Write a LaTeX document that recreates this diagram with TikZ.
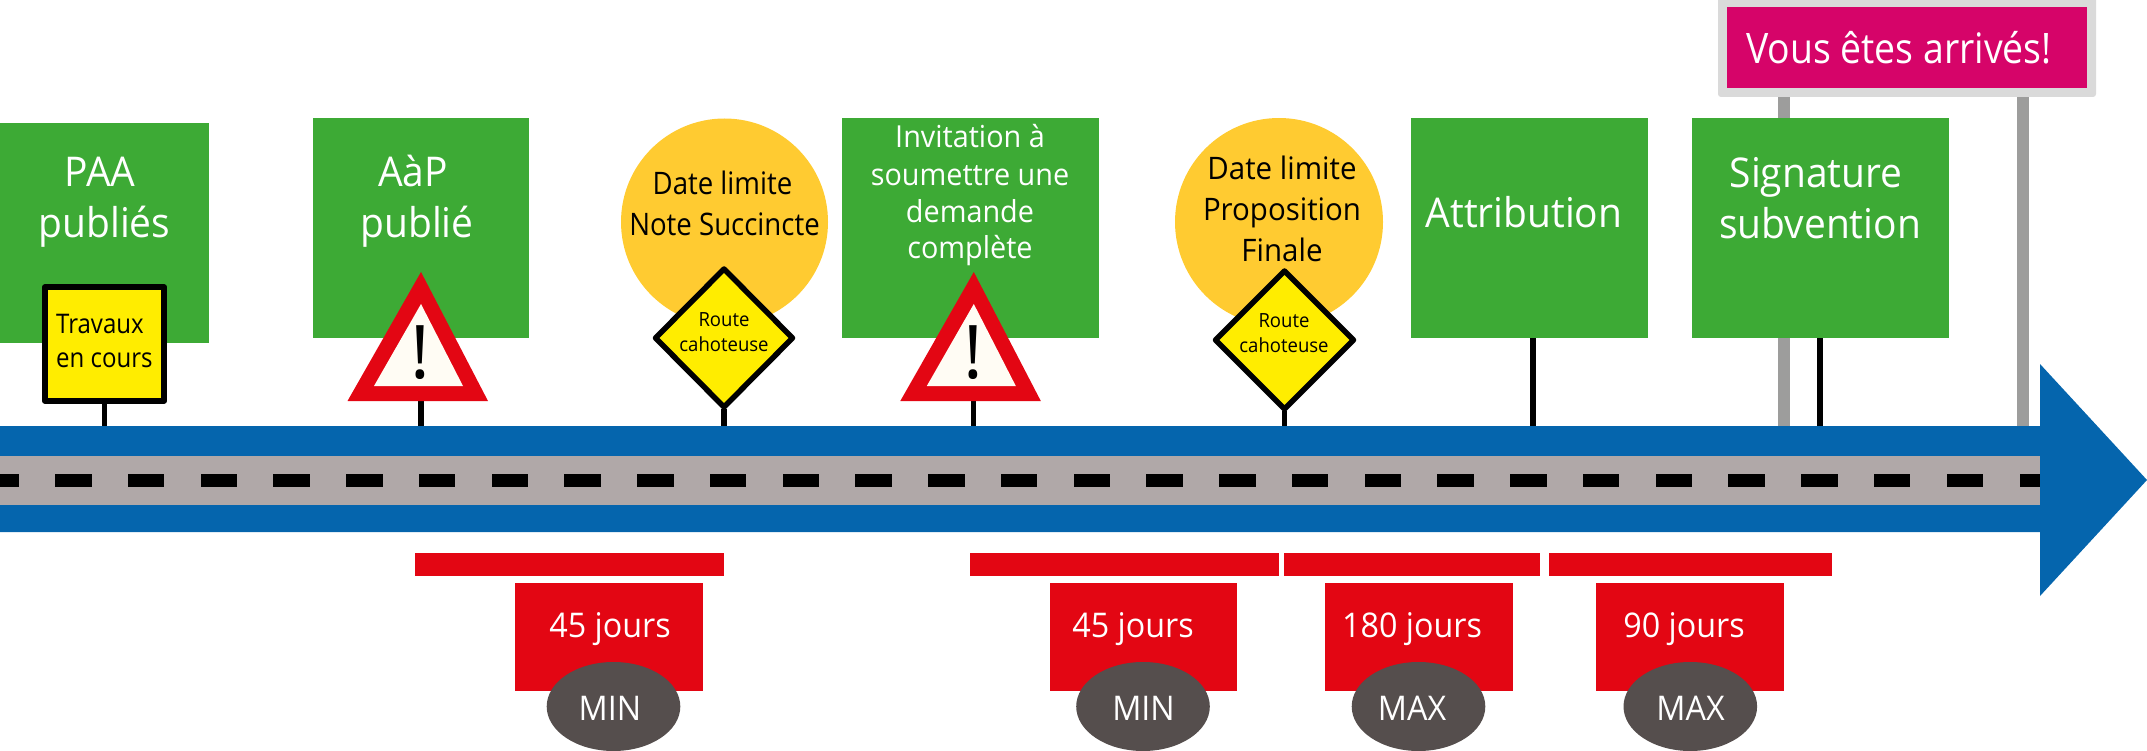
\documentclass[tikz,border=0pt]{standalone}
\usepackage{fontspec}
\setmainfont{Open Sans}[FakeStretch=0.95]
\newfontfamily\narrowf{Open Sans}[FakeStretch=0.89]
\newfontfamily\plainf{Open Sans}
\definecolor{gr}{HTML}{3DAA35}
\definecolor{bl}{HTML}{0565AD}
\definecolor{rd}{HTML}{E30613}
\definecolor{ye}{HTML}{FFED00}
\definecolor{or}{HTML}{FFCB31}
\definecolor{pk}{HTML}{D60469}
\definecolor{rdg}{HTML}{B0A8A8}
\definecolor{el}{HTML}{554E4D}
\definecolor{pg}{HTML}{9D9D9C}
\definecolor{sg}{HTML}{DADADA}
\definecolor{iv}{HTML}{FFFCF4}
\tikzset{
 box/.style={fill=#1,draw=none,inner sep=0pt},
 post/.style={draw=black,line width=5.5pt},
 gpost/.style={draw=pg,line width=12pt},
 wt/.style={text=white,align=center,inner sep=0pt,anchor=base},
 kt/.style={text=black,align=center,inner sep=0pt,anchor=base},
 big/.style={font=\fontsize{41}{51}\selectfont},
 bignarrow/.style={font=\narrowf\fontsize{42}{51}\selectfont},
 mid/.style={font=\narrowf\fontsize{31}{41}\selectfont},
 midwide/.style={font=\fontsize{31}{41}\selectfont},
 inviteline/.style={font=\fontsize{30.3}{37}\selectfont},
 sml/.style={font=\fontsize{19.5}{25.5}\selectfont},
 dur/.style={font=\fontsize{34}{40}\selectfont},
 diam/.style={fill=ye,draw=black,line width=5.5pt,line join=round},
 tri/.style={fill=rd,draw=none},
 excl/.style={inner sep=0pt,anchor=base,font=\plainf\fontsize{74}{74}\selectfont},
}
\begin{document}
\begin{tikzpicture}[x=1pt,y=-1pt]
\useasboundingbox (0,0) rectangle (2147,751);
% posts behind
\coordinate (r1) at (104.5,426);\coordinate (r2) at (421,426);\coordinate (r3) at (724,426);
\coordinate (r4) at (973.5,426);\coordinate (r5) at (1284.5,426);\coordinate (r6) at (1533,426);
\coordinate (r7) at (1820,426);\coordinate (r8) at (1784,426);\coordinate (r9) at (2023,426);
\coordinate (g8) at (1784,90);\coordinate (g9) at (2023,90);
\draw[gpost] (g8) -- (r8);
\draw[gpost] (g9) -- (r9);
% road
\path[fill=bl] (0,426) -- (2040,426) -- (2040,364) -- (2147,480) -- (2040,596) -- (2040,532) -- (0,532) -- cycle;
\path[fill=rdg] (0,456) rectangle (2040,505);
\foreach \k in {0,...,26}{\path[fill=black] ({55+72.75*\k},474) rectangle ({55+72.75*\k+36.7},487);}
\path[fill=black] (0,474) rectangle (19,487);
\path[fill=black] (2019.5,474) rectangle (2040,487);
% final sign
\path[fill=sg,rounded corners=3pt] (1718,-6) rectangle (2096,97);
\node[box=pk,minimum width=360pt,minimum height=81pt] (end) at (1907,47.5) {};
\node[wt,bignarrow] (endt) at (1899,64) {Vous êtes arrivés!};
% green boxes
\node[box=gr,minimum width=209pt,minimum height=220pt] (paa) at (104.5,233) {};
\node[box=gr,minimum width=216pt,minimum height=220pt] (aap) at (421,228) {};
\node[box=gr,minimum width=257.5pt,minimum height=220pt] (inv) at (970.3,228) {};
\node[box=gr,minimum width=236.5pt,minimum height=220pt] (att) at (1529.3,228) {};
\node[box=gr,minimum width=257pt,minimum height=220pt] (sig) at (1820.5,228) {};
% circles
\node[circle,fill=or,inner sep=0pt,minimum size=207pt] (c1) at (724.5,222) {};
\node[circle,fill=or,inner sep=0pt,minimum size=208pt] (c2) at (1279,222) {};
% black posts
\draw[post] (104.5,404) -- (r1);
\draw[post] (421,401) -- (r2);
\draw[post] (724,409) -- (r3);
\draw[post] (973.5,401) -- (r4);
\draw[post] (1284.5,411) -- (r5);
\draw[post] (att.south -| r6) -- (r6);
\draw[post] (sig.south -| r7) -- (r7);
% box texts
\node[wt,big] (t1) at (104.5,238) {PAA\kern9pt\\publiés};
\node[wt,big] (t2) at (417,238) {AàP\kern8pt\\publié};
\node[kt,mid] (t3) at (724.5,236) {Date limite\kern4pt\\Note Succincte};
\node[wt,inviteline] (t4) at (970,259) {Invitation à\\soumettre une\\demande\\complète};
\node[kt,midwide] (t5) at (1282,262) {Date limite\\Proposition\\Finale};
\node[wt,big] (t6) at (1524,228) {Attribution};
\node[wt,big] (t7) at (1820,238.5) {Signature\kern8pt\\subvention};
% travaux
\path[fill=ye,draw=black,line width=5.5pt,line join=round] (44.8,287) rectangle (164.2,401);
\node[kt,align=left,font=\narrowf\fontsize{27}{34}\selectfont,anchor=base west] (t8) at (56,367) {Travaux\\en cours};
% triangles
\foreach \c/\n in {421/a,973.8/b}{
 \path[tri] (\c,272) -- (\c+67,401) -- (\c-73.5,401) -- cycle;
 \path[fill=iv] (\c,304) -- (\c+42,386) -- (\c-47,386) -- cycle;
}
\node[excl] (ex1) at (420.5,378) {!};
\node[excl] (ex2) at (973,378) {!};
% diamonds
\path[diam] (724,269) -- (792.5,338) -- (724,407) -- (655.5,338) -- cycle;
\path[diam] (1284.5,271) -- (1353.5,340) -- (1284.5,409) -- (1215.5,340) -- cycle;
\node[kt,sml] (t9) at (724,352) {Route\\cahoteuse};
\node[kt,sml] (t10) at (1284,352.5) {Route\\cahoteuse};
% red bars
\path[fill=rd] (415,553) rectangle (724.4,576);
\path[fill=rd] (970,553) rectangle (1279,576);
\path[fill=rd] (1284,553) rectangle (1539.5,576);
\path[fill=rd] (1549,553) rectangle (1831.5,576);
\node[box=rd,minimum width=187.5pt,minimum height=108pt] (d1) at (609.2,637) {};
\node[box=rd,minimum width=187pt,minimum height=108pt] (d2) at (1143.5,637) {};
\node[box=rd,minimum width=188pt,minimum height=108pt] (d3) at (1418.7,637) {};
\node[box=rd,minimum width=188pt,minimum height=108pt] (d4) at (1690.4,637) {};
\foreach \c/\n in {613.5/a,1143/b,1418.5/c,1690.3/d}{
 \path[fill=el] (\c,706.5) ellipse (66.8pt and 44.5pt);
}
\node[wt,dur] (j1) at (610,637) {45 jours};
\node[wt,dur] (j2) at (1133,637) {45 jours};
\node[wt,dur] (j3) at (1412,637) {180 jours};
\node[wt,dur] (j4) at (1684,637) {90 jours};
\node[wt,dur] (m1) at (610,720) {MIN};
\node[wt,dur] (m2) at (1143.5,720) {MIN};
\node[wt,dur] (m3) at (1412,720) {MAX};
\node[wt,dur] (m4) at (1690.5,720) {MAX};
\end{tikzpicture}
\end{document}
